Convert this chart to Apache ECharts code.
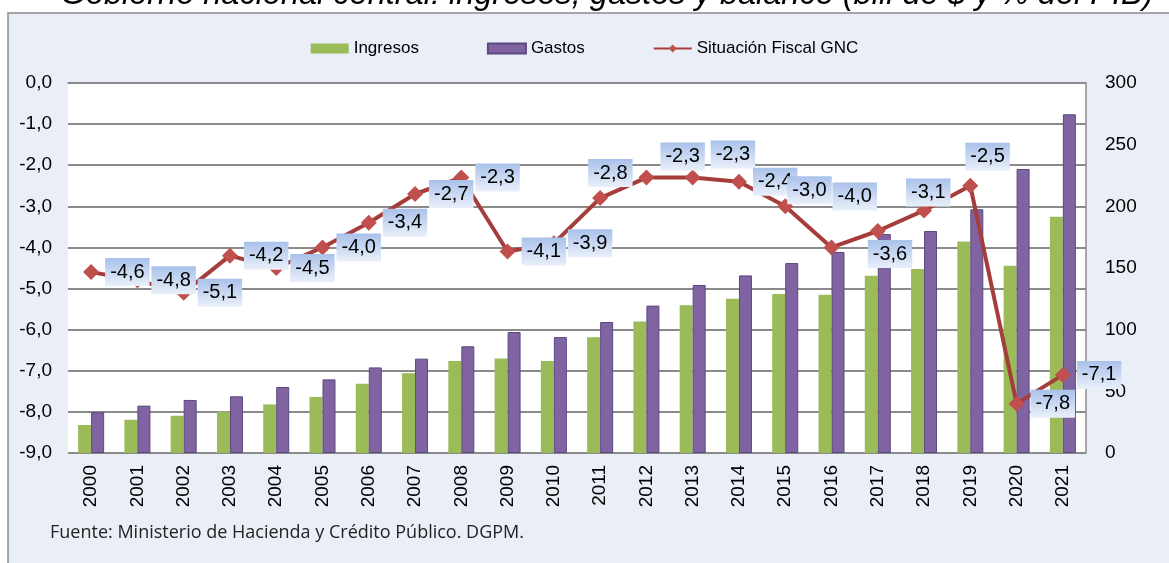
<!DOCTYPE html>
<html>
<head>
    <title>ECharts</title>
	<meta charset="utf-8">
    <script type="text/javascript" src="https://cdn.jsdelivr.net/npm/echarts@6/dist/echarts.min.js"></script>
    <style>
        html, body { margin: 0; padding: 0; background: #fff; }
        #main { width: 1169px; height: 563px; }
    </style>
</head>
<body>
    <div id="main"></div>
    <script type="text/javascript">
	// datos
	var years = ['2000','2001','2002','2003','2004','2005','2006','2007','2008','2009','2010',
	             '2011','2012','2013','2014','2015','2016','2017','2018','2019','2020','2021'];
	var ingresos = [22.7, 27, 30.2, 33.7, 39.4, 45.4, 56.2, 64.6, 74.6, 76.7, 74.6,
	                93.8, 106.7, 119.7, 125.1, 129, 128.4, 143.8, 149.2, 171.4, 151.9, 191.6];
	var gastos = [33, 38.4, 43, 46, 53.5, 59.7, 69.4, 76.5, 86.5, 98.1, 94,
	              106.2, 119.5, 136.2, 144, 154, 163, 177.6, 180, 197.6, 230.3, 274.6];
	var situacion = [-4.6, -4.8, -5.1, -4.2, -4.5, -4.0, -3.4, -2.7, -2.3, -4.1, -3.9,
	                 -2.8, -2.3, -2.3, -2.4, -3.0, -4.0, -3.6, -3.1, -2.5, -7.8, -7.1];

	// desplazamiento de etiquetas (px) respecto a la posicion a la derecha
	var labelShift = {11: [-26, -25], 12: [0, -21], 13: [4, -23], 15: [-12, -16],
	                  16: [-13, -51], 17: [-24, 23], 18: [-32, -18], 19: [-19, -29]};

	var fmt = function (v) { return v.toFixed(1).replace('.', ','); };

	var lineData = situacion.map(function (v, i) {
		var item = { value: v };
		if (labelShift[i]) {
			item.label = { offset: labelShift[i] };
		}
		return item;
	});

	var myChart = echarts.init(document.getElementById('main'));

	var option = {
		backgroundColor: '#ffffff',
		animation: false,
		textStyle: { fontFamily: 'Liberation Sans, Arial, sans-serif' },
		graphic: [
			{
				type: 'rect', z: -10, silent: true,
				shape: { x: 8, y: 13, width: 1175, height: 560 },
				style: { fill: '#EAEEF6', stroke: '#8C8C8C', lineWidth: 1.5 }
			},
			{
				type: 'text', silent: true,
				style: {
					x: 607, y: -5,
					text: 'Gobierno nacional central: ingresos, gastos y balance (bill de $ y % del PIB)',
					font: 'italic 32.5px "Liberation Sans", Arial, sans-serif',
					fill: '#000', align: 'center', verticalAlign: 'middle'
				}
			},
			{
				type: 'text', silent: true,
				style: {
					x: 50, y: 533,
					text: 'Fuente: Ministerio de Hacienda y Crédito Público. DGPM.',
					font: '18px "Open Sans", sans-serif',
					fill: '#222', align: 'left', verticalAlign: 'middle'
				}
			}
		],
		legend: {
			top: 35,
			left: 'center',
			itemGap: 68,
			itemWidth: 38,
			itemHeight: 10,
			textStyle: { fontSize: 17, color: '#000' },
			data: [
				{ name: 'Ingresos', icon: 'rect' },
				{ name: 'Gastos', icon: 'rect' },
				{ name: 'Situación Fiscal GNC' }
			]
		},
		grid: {
			left: 68, right: 83, top: 83, bottom: 110,
			show: true, backgroundColor: '#ffffff', borderWidth: 0
		},
		xAxis: {
			type: 'category',
			data: years,
			axisLine: { lineStyle: { color: '#8C8C8C', width: 1.5 } },
			axisTick: { show: false },
			axisLabel: { rotate: 90, fontSize: 19, color: '#000', margin: 12 }
		},
		yAxis: [
			{
				type: 'value', min: -9, max: 0, interval: 1,
				axisLine: { show: false },
				axisTick: { show: false },
				axisLabel: { fontSize: 19, color: '#000', margin: 16, formatter: fmt },
				splitLine: { lineStyle: { color: '#8A8A8A', width: 1.8 } }
			},
			{
				type: 'value', min: 0, max: 300, interval: 50,
				axisLine: { show: true, lineStyle: { color: '#8C8C8C', width: 1.5 } },
				axisTick: { show: false },
				axisLabel: { fontSize: 19, color: '#000', margin: 19 },
				splitLine: { show: false }
			}
		],
		series: [
			{
				name: 'Ingresos', type: 'bar', yAxisIndex: 1,
				data: ingresos, barWidth: 13, barGap: '0%',
				itemStyle: { color: '#9BBB59' }
			},
			{
				name: 'Gastos', type: 'bar', yAxisIndex: 1,
				data: gastos, barWidth: 13,
				itemStyle: { color: '#8064A2', borderColor: '#5C4880', borderWidth: 1 }
			},
			{
				name: 'Situación Fiscal GNC', type: 'line', yAxisIndex: 0,
				data: lineData, z: 5,
				symbol: 'diamond', symbolSize: 16,
				lineStyle: { color: '#A53E3A', width: 4 },
				itemStyle: { color: '#C0504D' },
				label: {
					show: true, position: 'right', distance: 6,
					fontSize: 20, color: '#000',
					formatter: function (p) { return fmt(p.value); },
					padding: [5, 5, 3, 5],
					backgroundColor: new echarts.graphic.LinearGradient(0, 0, 0, 1, [
						{ offset: 0, color: '#A9C1EA' },
						{ offset: 1, color: '#EAF0FA' }
					])
				}
			}
		]
	};

	myChart.setOption(option);
    </script>
</body>
</html>
